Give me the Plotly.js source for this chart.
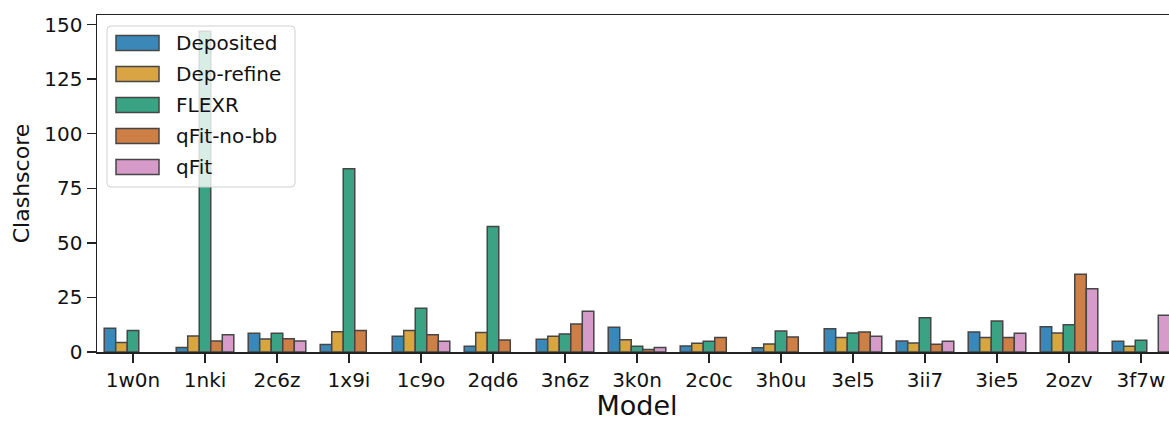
<!DOCTYPE html>
<html>
<head>
<meta charset="utf-8">
<script src="https://cdn.plot.ly/plotly-3.0.1.min.js"></script>
<style>
html,body{margin:0;padding:0;overflow:hidden;background:#fff;width:1169px;height:421px;}
#chart{width:1182px;height:421px;}
</style>
</head>
<body>
<div id="chart"></div>
<script>
// ---- data ----
const models = ["1w0n","1nki","2c6z","1x9i","1c9o","2qd6","3n6z","3k0n","2c0c","3h0u","3el5","3ii7","3ie5","2ozv","3f7w"];
const seriesNames = ["Deposited","Dep-refine","FLEXR","qFit-no-bb","qFit"];
const deposited = [10.9, 2.1, 8.6, 3.4, 7.2, 2.6, 5.8, 11.3, 2.8, 2.0, 10.7, 5.0, 9.2, 11.6, 4.9];
const depRefine = [4.4, 7.3, 6.0, 9.3, 9.8, 8.9, 7.2, 5.6, 4.0, 3.7, 6.7, 4.1, 6.7, 8.7, 2.6];
const flexr     = [9.8, 147.0, 8.6, 84.0, 20.0, 57.5, 8.3, 2.6, 4.9, 9.6, 8.7, 15.7, 14.2, 12.5, 5.4];
const qfitNoBB  = [null, 5.0, 6.1, 9.9, 7.9, 5.5, 12.8, 1.2, 6.7, 6.9, 9.2, 3.5, 6.7, 35.6, null];
const qfit      = [null, 7.9, 5.0, null, 4.9, null, 18.7, 2.1, null, null, 7.2, 4.9, 8.6, 29.0, 16.8];
const yTicks = [0, 25, 50, 75, 100, 125, 150];

// ---- style ----
const colors = ["#3b88b8", "#d9a444", "#3aa383", "#cd7f46", "#d69bc9"];
const edge = "#464646";
const values = [deposited, depRefine, flexr, qfitNoBB, qfit];

const traces = seriesNames.map((n, i) => ({
  type: "bar", name: n, x: models, y: values[i],
  marker: {color: colors[i], line: {color: edge, width: 1.5}},
  showlegend: false, hoverinfo: "x+y+name"
}));

// plot area geometry (pixels)
const L = 97, T = 15, PW = 1080, PH = 337;
const px = x => (x - L) / PW;
const py = y => (T + PH - y) / PH;

const font = "DejaVu Sans, sans-serif";
const shapes = [];
const annotations = [];
// legend box (rounded, semi-transparent)
const bx0 = px(107), bx1 = px(295), by0 = py(187), by1 = py(26);
const r = 4;
const rx = r / PW, ry = r / PH;
shapes.push({
  type: "path", xref: "paper", yref: "paper", layer: "above",
  path: `M ${bx0+rx} ${by1} L ${bx1-rx} ${by1} Q ${bx1} ${by1} ${bx1} ${by1-ry} L ${bx1} ${by0+ry} Q ${bx1} ${by0} ${bx1-rx} ${by0} L ${bx0+rx} ${by0} Q ${bx0} ${by0} ${bx0} ${by0+ry} L ${bx0} ${by1-ry} Q ${bx0} ${by1} ${bx0+rx} ${by1} Z`,
  fillcolor: "rgba(255,255,255,0.8)", line: {color: "#d0d0d0", width: 1}
});
seriesNames.forEach((n, i) => {
  const cy = 43 + i * 31;
  shapes.push({
    type: "rect", xref: "paper", yref: "paper", layer: "above",
    x0: px(116), x1: px(159), y0: py(cy + 7.5), y1: py(cy - 7.5),
    fillcolor: colors[i], line: {color: edge, width: 1.5}
  });
  annotations.push({
    xref: "paper", yref: "paper", x: px(174), y: py(cy), xanchor: "left", yanchor: "middle",
    text: n, showarrow: false, font: {family: font, size: 20, color: "#111"}
  });
});

const layout = {
  width: 1182, height: 421,
  margin: {l: L, r: 1182 - L - PW, t: T, b: 421 - T - PH},
  paper_bgcolor: "#fff", plot_bgcolor: "#fff",
  bargap: 0.2, bargroupgap: 0, barmode: "group",
  font: {family: font, size: 20, color: "#111"},
  xaxis: {
    type: "category", range: [-0.5, 14.5],
    showline: true, mirror: true, linecolor: "#222", linewidth: 1.5,
    ticks: "outside", ticklen: 9, tickwidth: 1.5, tickcolor: "#222",
    tickfont: {family: font, size: 20, color: "#111"},
    showgrid: false, zeroline: false,
    title: {text: "Model", font: {family: font, size: 27, color: "#111"}, standoff: 10}
  },
  yaxis: {
    range: [0, 154.4], tickvals: yTicks,
    showline: true, mirror: true, linecolor: "#222", linewidth: 1.5,
    ticks: "outside", ticklen: 9, tickwidth: 1.5, tickcolor: "#222",
    tickfont: {family: font, size: 20, color: "#111"},
    showgrid: false, zeroline: false,
    title: {text: "Clashscore", font: {family: font, size: 22, color: "#111"}, standoff: 8}
  },
  shapes: shapes,
  annotations: annotations
};

Plotly.newPlot("chart", traces, layout, {displayModeBar: false, staticPlot: true});
</script>
</body>
</html>
